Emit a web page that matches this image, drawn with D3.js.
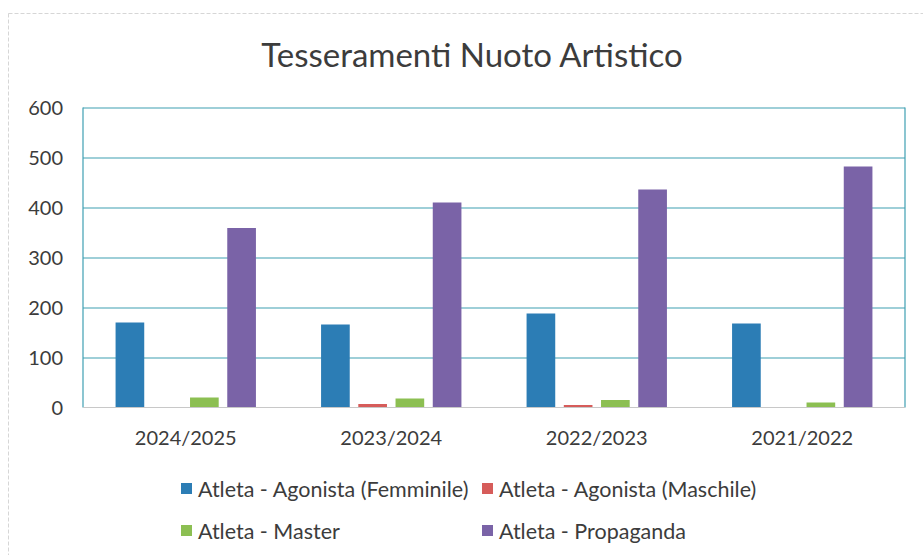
<!DOCTYPE html>
<html>
<head>
<meta charset="utf-8">
<script src="https://cdn.jsdelivr.net/npm/d3@7/dist/d3.min.js"></script>
<style>
  html, body { margin: 0; padding: 0; background: #ffffff; }
  svg { display: block; }
  text { font-family: Lato, "Open Sans", "Noto Sans", sans-serif; fill: #3c3c3c; }
</style>
</head>
<body>
<svg id="chart" width="923" height="555"></svg>
<script>
// Stagioni (asse delle categorie)
const seasons = ["2024/2025", "2023/2024", "2022/2023", "2021/2022"];

// Serie di tesseramento
const seriesNames = [
  "Atleta - Agonista (Femminile)",
  "Atleta - Agonista (Maschile)",
  "Atleta - Master",
  "Atleta - Propaganda"
];

// Valori per stagione, nello stesso ordine di seasons
const agonistaFemminile = [170, 166, 188, 168];
const agonistaMaschile  = [0, 7, 5, 0];
const master            = [20, 18, 15, 10];
const propaganda        = [359, 410, 436, 482];

// Tacche dell'asse Y
const yTicks = [0, 100, 200, 300, 400, 500, 600];

const seriesValues = [agonistaFemminile, agonistaMaschile, master, propaganda];
const seriesColors = ["#2c7db5", "#d65c5a", "#8cbf52", "#7a63a7"];

const svg = d3.select("#chart");

// Cornice esterna del grafico
svg.append("rect")
  .attr("x", 8.5).attr("y", 13.5)
  .attr("width", 1000).attr("height", 1000)
  .attr("fill", "none")
  .attr("stroke", "#d6d6d6")
  .attr("stroke-width", 1)
  .attr("stroke-dasharray", "4,2");

// Titolo
svg.append("text")
  .attr("x", 472).attr("y", 67)
  .attr("text-anchor", "middle")
  .style("font-size", "33px")
  .text("Tesseramenti Nuoto Artistico");

const plot = { left: 83, right: 905, top: 107.5, bottom: 407.5 };

const y = d3.scaleLinear().domain([0, 600]).range([plot.bottom, plot.top]);

const x0 = d3.scaleBand()
  .domain(seasons)
  .range([plot.left, plot.right])
  .paddingInner(0.317)
  .paddingOuter(0.1585);

const x1 = d3.scaleBand()
  .domain(d3.range(seriesNames.length))
  .range([0, x0.bandwidth()])
  .paddingInner(0.23)
  .paddingOuter(0);

// Griglia orizzontale e bordi verticali
const grid = svg.append("g")
  .attr("transform", `translate(${plot.left},0)`)
  .call(d3.axisLeft(y).tickValues(yTicks.filter(t => t > 0))
    .tickSize(-(plot.right - plot.left)).tickFormat(""));
grid.select(".domain").remove();
grid.selectAll(".tick line").attr("stroke", "#3f9fb2").attr("stroke-width", 1.2);

svg.append("line")
  .attr("x1", plot.left).attr("x2", plot.left)
  .attr("y1", plot.top).attr("y2", plot.bottom)
  .attr("stroke", "#3f9fb2").attr("stroke-width", 1.2);
svg.append("line")
  .attr("x1", plot.right).attr("x2", plot.right)
  .attr("y1", plot.top).attr("y2", plot.bottom)
  .attr("stroke", "#3f9fb2").attr("stroke-width", 1.2);

// Etichette asse Y
const yAxis = svg.append("g")
  .attr("transform", `translate(${plot.left - 20},0)`)
  .call(d3.axisLeft(y).tickValues(yTicks).tickSize(0).tickPadding(0));
yAxis.select(".domain").remove();
yAxis.selectAll("text")
  .style("font-size", "20px")
  .style("font-family", "Lato, 'Open Sans', sans-serif")
  .attr("fill", "#3c3c3c")
  .attr("dy", "0.36em");

// Barre
const groups = svg.append("g").selectAll("g")
  .data(seasons)
  .join("g")
  .attr("transform", d => `translate(${x0(d)},0)`);

groups.selectAll("rect")
  .data((d, i) => seriesValues.map((vals, s) => ({ s, v: vals[i] })))
  .join("rect")
  .attr("x", d => x1(d.s))
  .attr("width", x1.bandwidth())
  .attr("y", d => y(d.v))
  .attr("height", d => y(0) - y(d.v))
  .attr("fill", d => seriesColors[d.s]);

// Linea di base
svg.append("line")
  .attr("x1", plot.left).attr("x2", plot.right)
  .attr("y1", plot.bottom).attr("y2", plot.bottom)
  .attr("stroke", "#c8c8c8").attr("stroke-width", 1.2);

// Etichette asse X
const xAxis = svg.append("g")
  .attr("transform", `translate(0,${plot.bottom})`)
  .call(d3.axisBottom(x0).tickSize(0).tickPadding(0));
xAxis.select(".domain").remove();
xAxis.selectAll("text")
  .style("font-size", "20px")
  .style("font-family", "Lato, 'Open Sans', sans-serif")
  .attr("fill", "#3c3c3c")
  .attr("dy", "1.85em");

// Legenda su due righe e due colonne
const legendPos = [
  { x: 181, y: 489 }, { x: 482, y: 489 },
  { x: 181, y: 531 }, { x: 482, y: 531 }
];
const legend = svg.append("g").selectAll("g")
  .data(seriesNames)
  .join("g")
  .attr("transform", (d, i) => `translate(${legendPos[i].x},${legendPos[i].y})`);
legend.append("rect")
  .attr("x", 0).attr("y", -6)
  .attr("width", 11).attr("height", 11)
  .attr("fill", (d, i) => seriesColors[i]);
legend.append("text")
  .attr("x", 17).attr("y", 0)
  .attr("dy", "0.36em")
  .style("font-size", "21.5px")
  .text(d => d);
</script>
</body>
</html>
